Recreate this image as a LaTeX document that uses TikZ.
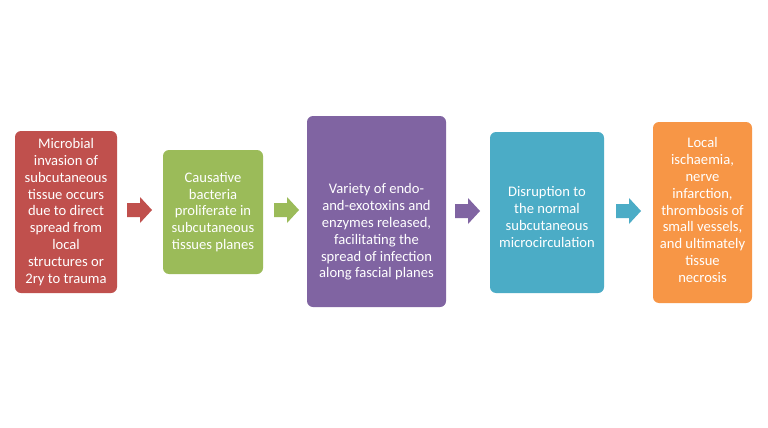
\documentclass[tikz,border=0pt]{standalone}
\usepackage{fontspec}
\setmainfont{Carlito}
\definecolor{cred}{HTML}{C0504D}
\definecolor{cgreen}{HTML}{9BBB59}
\definecolor{cpurple}{HTML}{8064A2}
\definecolor{cblue}{HTML}{4BACC6}
\definecolor{corange}{HTML}{F79646}
\tikzset{
  stepbox/.style={rounded corners=6pt, draw=none, text=white, align=center,
    font=\fontsize{14.6}{16.8}\selectfont, inner sep=0pt},
  blockarrow/.pic={
    \fill[#1] (0,-7) -- (13,-7) -- (13,-13) -- (25,0) -- (13,13) -- (13,7) -- (0,7) -- cycle;
  }
}
\begin{document}
\begin{tikzpicture}[x=1pt,y=-1pt]
\useasboundingbox (0,0) rectangle (768,428);
\fill[white] (0,0) rectangle (768,428);
% boxes
\fill[cred, rounded corners=6pt] (15,131) rectangle (117,293);
\node[stepbox] (b1) at (66,212) {Microbial\\invasion of\\subcutaneous\\tissue occurs\\due to direct\\spread from\\local\\structures or\\2ry to trauma};
\fill[cgreen, rounded corners=6pt] (163,150) rectangle (263,274);
\node[stepbox] (b2) at (213,212) {Causative\\bacteria\\proliferate in\\subcutaneous\\tissues planes};
\fill[cpurple, rounded corners=6pt] (307,116) rectangle (446,307);
\node[stepbox] (b3) at (376.5,232) {Variety of endo-\\and-exotoxins and\\enzymes released,\\facilitating the\\spread of infection\\along fascial planes};
\fill[cblue, rounded corners=6pt] (490,132) rectangle (604,293);
\node[stepbox] (b4) at (547,217) {Disruption to\\the normal\\subcutaneous\\microcirculation};
\fill[corange, rounded corners=6pt] (653,122) rectangle (752,303);
\node[stepbox] (b5) at (702.5,210) {Local\\ischaemia,\\nerve\\infarction,\\thrombosis of\\small vessels,\\and ultimately\\tissue\\necrosis};
% arrows
\pic at (127,210) {blockarrow=cred};
\pic at (274,210) {blockarrow=cgreen};
\pic at (455,211) {blockarrow=cpurple};
\pic at (616,211) {blockarrow=cblue};
\end{tikzpicture}
\end{document}
